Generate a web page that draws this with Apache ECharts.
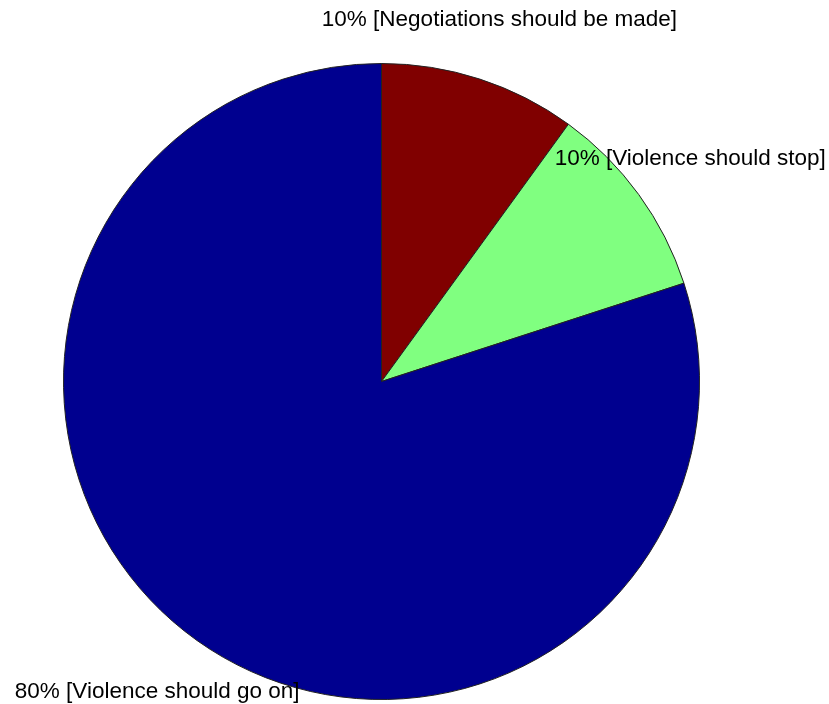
<!DOCTYPE html>
<html>
<head>
<meta charset="utf-8">
<script src="https://cdn.jsdelivr.net/npm/echarts@6/dist/echarts.min.js"></script>
<style>
html,body{margin:0;padding:0;background:#fff;}
#chart{width:829px;height:704px;}
</style>
</head>
<body>
<div id="chart"></div>
<script>
const categories = ['Negotiations should be made', 'Violence should stop', 'Violence should go on'];
const values = [10, 10, 80];
const colors = ['#800000', '#80ff80', '#00008f'];

const CX = 381.5, CY = 381.5, R = 318;
const total = values.reduce((a, b) => a + b, 0);
const midAngles = [];
let acc = 0;
values.forEach(v => {
  const start = 90 - acc / total * 360;
  acc += v;
  const end = 90 - acc / total * 360;
  midAngles.push((start + end) / 2 * Math.PI / 180);
});

const chart = echarts.init(document.getElementById('chart'), null, {renderer: 'canvas'});
chart.setOption({
  backgroundColor: '#ffffff',
  animation: false,
  series: [{
    type: 'pie',
    center: [CX, CY],
    radius: [0, R],
    startAngle: 90,
    clockwise: true,
    avoidLabelOverlap: false,
    emphasis: {disabled: true},
    itemStyle: {borderColor: '#222', borderWidth: 1},
    label: {
      show: true,
      position: 'outside',
      color: '#000',
      fontFamily: 'Liberation Sans, Arial, sans-serif',
      fontSize: 22.5,
      formatter: p => Math.round(p.percent) + '% [' + p.name + ']'
    },
    labelLine: {show: false},
    labelLayout: function (params) {
      const a = midAngles[params.dataIndex];
      return {
        x: CX + 1.2 * R * Math.cos(a),
        y: CY - 1.2 * R * Math.sin(a) + 1.5,
        align: 'center',
        verticalAlign: 'middle'
      };
    },
    data: categories.map((c, i) => ({name: c, value: values[i], itemStyle: {color: colors[i]}}))
  }]
});
</script>
</body>
</html>
